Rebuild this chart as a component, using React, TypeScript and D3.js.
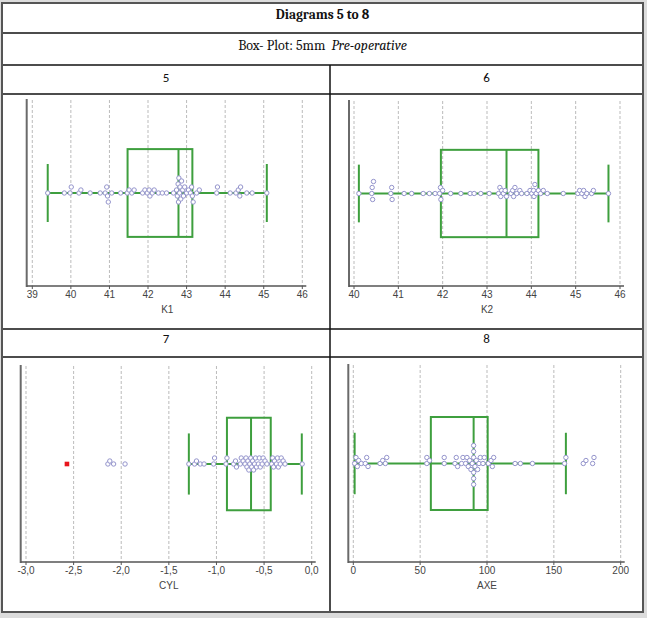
import * as d3 from 'd3';

// K1 / K2 / CYL / AXE measurements, pre-operative, 5 mm zone
const k1Values = [
  39.4, 39.83, 39.98, 40.01, 40.21, 40.26, 40.5, 40.76, 40.89, 40.93, 40.95, 40.97,
  41.06, 41.29, 41.46, 41.51, 41.58, 41.64, 41.86, 41.92, 41.98, 42.03, 42.05, 42.11,
  42.16, 42.27, 42.37, 42.48, 42.66, 42.74, 42.76, 42.78, 42.79, 42.8, 42.82, 42.83,
  42.85, 42.87, 42.9, 42.92, 42.95, 43.0, 43.05, 43.1, 43.13, 43.15, 43.17, 43.26,
  43.33, 43.78, 43.8, 44.13, 44.28, 44.34, 44.38, 44.4, 44.56, 44.7, 45.08,
];
const k2Values = [
  40.11, 40.4, 40.41, 40.42, 40.44, 40.83, 40.85, 40.86, 41.13, 41.3, 41.56, 41.7,
  41.83, 41.93, 41.95, 41.96, 42.0, 42.18, 42.41, 42.62, 42.71, 42.86, 43.05, 43.26,
  43.29, 43.31, 43.33, 43.37, 43.41, 43.44, 43.54, 43.58, 43.6, 43.63, 43.67, 43.74,
  43.78, 43.9, 43.97, 44.01, 44.05, 44.06, 44.08, 44.11, 44.16, 44.21, 44.27, 44.36,
  44.72, 45.05, 45.09, 45.14, 45.18, 45.21, 45.25, 45.36, 45.4, 45.74,
];
const cylValues = [
  -2.14, -2.12, -2.08, -1.96, -1.29, -1.23, -1.21, -1.17, -1.13, -1.03, -1.02, -0.9,
  -0.89, -0.82, -0.8, -0.79, -0.75, -0.74, -0.72, -0.7, -0.69, -0.68, -0.67, -0.66,
  -0.65, -0.64, -0.63, -0.62, -0.61, -0.6, -0.59, -0.58, -0.56, -0.55, -0.54, -0.52,
  -0.51, -0.49, -0.47, -0.42, -0.41, -0.4, -0.39, -0.37, -0.36, -0.35, -0.33, -0.32,
  -0.3, -0.28, -0.1,
];
const axeValues = [
  1, 2, 3, 4, 6, 9, 10, 11, 20, 22, 24, 25, 55, 55, 57, 68, 68, 76, 77, 78, 81, 82,
  84, 85, 86, 87, 88, 89, 90, 90, 90, 90, 90, 90, 91, 92, 93, 94, 95, 97, 98, 101,
  103, 104, 105, 121, 125, 134, 158, 159, 172, 174, 179, 180,
];

// whisker low, Q1, median, Q3, whisker high
const k1Box = [39.4, 41.47, 42.79, 43.15, 45.08];
const k2Box = [40.11, 41.96, 43.44, 44.16, 45.74];
const cylBox = [-1.29, -0.89, -0.637, -0.43, -0.104];
const axeBox = [1, 58, 90, 100.5, 159];

const cylOutliers = [-2.57];

const k1Ticks = [39, 40, 41, 42, 43, 44, 45, 46];
const k2Ticks = [40, 41, 42, 43, 44, 45, 46];
const cylTicks = [-3, -2.5, -2, -1.5, -1, -0.5, 0];
const axeTicks = [0, 50, 100, 150, 200];

const panelNames = ['5', '6', '7', '8'];
const axisTitles = ['K1', 'K2', 'CYL', 'AXE'];

const GREEN = '#3e9f3e';
const DOT = '#9494cc';
const R = 2.2;

type PanelProps = {
  values: number[];
  box: number[];
  outliers: number[];
  ticks: number[];
  fmt: (v: number) => string;
  title: string;
  axisX: number;
  x0: number;
  x1: number;
  top: number;
  bottom: number;
};

// deterministic swarm: stack colliding dots above/below the centre line
function swarm(xs: number[], step: number, minDist: number) {
  const placed: { x: number; dy: number }[] = [];
  const order = xs.map((x, i) => ({ x, i })).sort((a, b) => a.x - b.x);
  const out: number[] = new Array(xs.length).fill(0);
  order.forEach(({ x, i }) => {
    for (let k = 0; k < 40; k++) {
      const dy = k === 0 ? 0 : (k % 2 ? -1 : 1) * Math.ceil(k / 2) * step;
      const hit = placed.some((p) => Math.hypot(p.x - x, p.dy - dy) < minDist);
      if (!hit) {
        placed.push({ x, dy });
        out[i] = dy;
        break;
      }
    }
  });
  return out;
}

function Panel(p: PanelProps) {
  const x = d3
    .scaleLinear()
    .domain([p.ticks[0], p.ticks[p.ticks.length - 1]])
    .range([p.x0, p.x1]);
  const y = d3.scaleLinear().domain([0, 1]).range([p.bottom, p.top]);
  const cy = y(0.5);
  const h = p.bottom - p.top;
  const boxHalf = h * 0.236;
  const capHalf = h * 0.156;
  const [wLo, q1, med, q3, wHi] = p.box;
  const xs = p.values.map((v) => x(v));
  const offs = swarm(xs, 3, 3.4);

  return (
    <g>
      {p.ticks.map((t) => (
        <line
          key={'g' + t}
          x1={x(t)}
          x2={x(t)}
          y1={p.top}
          y2={p.bottom}
          stroke="#aaa"
          strokeWidth={0.8}
          strokeDasharray="3,2"
        />
      ))}
      <line x1={x(wLo)} x2={x(wHi)} y1={cy} y2={cy} stroke={GREEN} strokeWidth={2} />
      <rect
        x={x(q1)}
        y={cy - boxHalf}
        width={x(q3) - x(q1)}
        height={boxHalf * 2}
        fill="none"
        stroke={GREEN}
        strokeWidth={2}
      />
      <line x1={x(med)} x2={x(med)} y1={cy - boxHalf} y2={cy + boxHalf} stroke={GREEN} strokeWidth={2} />
      {[wLo, wHi].map((w, i) => (
        <line key={'c' + i} x1={x(w)} x2={x(w)} y1={cy - capHalf} y2={cy + capHalf} stroke={GREEN} strokeWidth={2} />
      ))}
      {xs.map((px, i) => (
        <circle key={'d' + i} cx={px} cy={cy + offs[i]} r={R} fill="#fff" stroke={DOT} strokeWidth={1} />
      ))}
      {p.outliers.map((v, i) => (
        <rect key={'o' + i} x={x(v) - 2.3} y={cy - 2.3} width={4.6} height={4.6} fill="#e8141c" />
      ))}
      <line x1={p.axisX} x2={p.axisX} y1={p.top - 1} y2={p.bottom + 1} stroke="#6a6a6a" strokeWidth={2} />
      <line x1={p.axisX} x2={p.x1 + 4} y1={p.bottom} y2={p.bottom} stroke="#555" strokeWidth={1.5} />
      {p.ticks.map((t) => (
        <g key={'t' + t}>
          <line x1={x(t)} x2={x(t)} y1={p.bottom} y2={p.bottom + 3} stroke="#555" strokeWidth={1} />
          <text
            x={x(t)}
            y={p.bottom + 12}
            textAnchor="middle"
            fontFamily="Liberation Sans, Arial, sans-serif"
            fontSize={10}
            fill="#444"
          >
            {p.fmt(t)}
          </text>
        </g>
      ))}
      <text
        x={(p.x0 + p.x1) / 2}
        y={p.bottom + 27}
        textAnchor="middle"
        fontFamily="Liberation Sans, Arial, sans-serif"
        fontSize={10}
        fill="#444"
      >
        {p.title}
      </text>
    </g>
  );
}

export default function App() {
  const W = 647;
  const H = 618;
  const L = 2;
  const R2 = 643;
  const mid = 330;
  const rows = [3, 33, 65, 94, 329, 357, 612];
  const intFmt = (v: number) => String(v);
  const commaFmt = (v: number) => d3.format('.1f')(v).replace('.', ',').replace('−', '-');
  const serif = 'Cambria, "Liberation Serif", "DejaVu Serif", serif';
  const sans = 'Calibri, "Liberation Sans", Arial, sans-serif';

  return (
    <div style={{ position: 'fixed', left: 0, top: 0 }}>
      <svg width={W} height={H} style={{ display: 'block' }}>
        <rect x={0} y={0} width={W} height={H} fill="#dcdcdc" />
        <rect x={L} y={rows[0]} width={R2 - L} height={rows[6] - rows[0]} fill="#fff" />
        {rows.slice(1, 6).map((r) => (
          <line key={r} x1={L} x2={R2} y1={r} y2={r} stroke="#111" strokeWidth={1.5} />
        ))}
        <line x1={mid} x2={mid} y1={rows[2]} y2={rows[6]} stroke="#111" strokeWidth={1.5} />
        <rect
          x={L}
          y={rows[0]}
          width={R2 - L}
          height={rows[6] - rows[0]}
          fill="none"
          stroke="#555"
          strokeWidth={2}
        />

        <text x={(L + R2) / 2} y={19} textAnchor="middle" fontFamily={serif} fontWeight="bold" fontSize={13.5} fill="#111">
          Diagrams 5 to 8
        </text>
        <text x={(L + R2) / 2} y={49.5} textAnchor="middle" fontFamily={serif} fontSize={14} fill="#111">
          Box- Plot: 5mm{'\u00a0\u00a0'}
          <tspan fontStyle="italic">Pre-operative</tspan>
        </text>
        {panelNames.map((n, i) => (
          <text
            key={n}
            x={i % 2 === 0 ? (L + mid) / 2 : (mid + R2) / 2}
            y={i < 2 ? 81.5 : 343}
            textAnchor="middle"
            fontFamily={sans}
            fontSize={13}
            fill="#111"
          >
            {n}
          </text>
        ))}

        <Panel
          values={k1Values}
          box={k1Box}
          outliers={[]}
          ticks={k1Ticks}
          fmt={intFmt}
          title={axisTitles[0]}
          axisX={26.7}
          x0={32.3}
          x1={302.3}
          top={100}
          bottom={286}
        />
        <Panel
          values={k2Values}
          box={k2Box}
          outliers={[]}
          ticks={k2Ticks}
          fmt={intFmt}
          title={axisTitles[1]}
          axisX={349}
          x0={354}
          x1={620}
          top={101}
          bottom={286}
        />
        <Panel
          values={cylValues}
          box={cylBox}
          outliers={cylOutliers}
          ticks={cylTicks}
          fmt={commaFmt}
          title={axisTitles[2]}
          axisX={20.7}
          x0={26}
          x1={311.7}
          top={366}
          bottom={562}
        />
        <Panel
          values={axeValues}
          box={axeBox}
          outliers={[]}
          ticks={axeTicks}
          fmt={intFmt}
          title={axisTitles[3]}
          axisX={348.3}
          x0={353.3}
          x1={620.7}
          top={365}
          bottom={562}
        />
      </svg>
    </div>
  );
}
